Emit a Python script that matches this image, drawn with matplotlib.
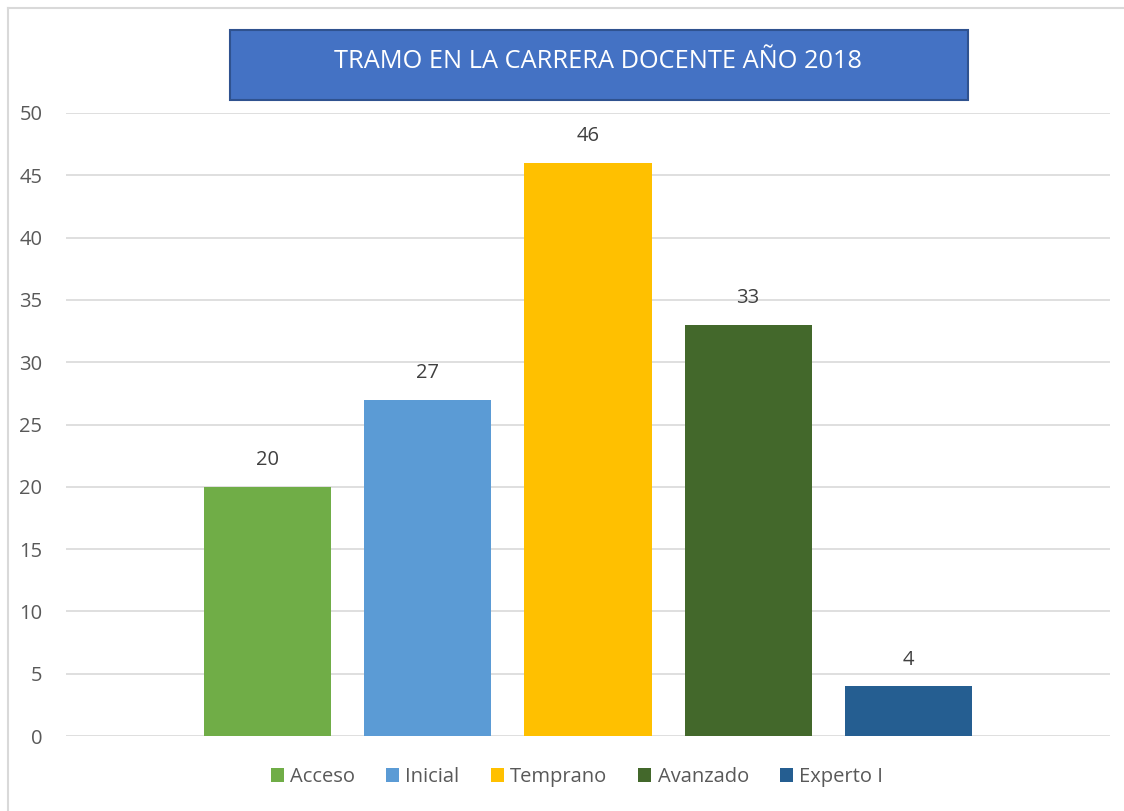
import matplotlib.pyplot as plt
from matplotlib.patches import Rectangle, Patch
from matplotlib.lines import Line2D

categories = ['Acceso', 'Inicial', 'Temprano', 'Avanzado', 'Experto I']
values = [20, 27, 46, 33, 4]
colors = ['#70AD47', '#5B9BD5', '#FFC000', '#43682B', '#255E91']
title = 'TRAMO EN LA CARRERA DOCENTE AÑO 2018'
yticks = [0, 5, 10, 15, 20, 25, 30, 35, 40, 45, 50]

plt.rcParams['font.family'] = ['Open Sans', 'DejaVu Sans']

W, H = 1124, 811
fig = plt.figure(figsize=(W / 100, H / 100), dpi=100)

# chart frame (only top and left edges visible)
fig.add_artist(Line2D([8 / W, 1], [1 - 8 / H, 1 - 8 / H], color='#D9D9D9', lw=1.5))
fig.add_artist(Line2D([8 / W, 8 / W], [0, 1 - 8 / H], color='#D9D9D9', lw=1.5))

ax = fig.add_axes([66 / W, (H - 736) / H, (1110 - 66) / W, (736 - 113) / H])
x = list(range(len(categories)))
bars = ax.bar(x, values, width=0.794, color=colors, zorder=3)
for xi, v in zip(x, values):
    ax.annotate(str(v), (xi, v), xytext=(0, 19), textcoords='offset points',
                ha='center', va='center', fontsize=14.5, color='#404040')

ax.set_xlim(-1.26, len(categories) - 1 + 1.26)
ax.set_ylim(0, 50)
ax.set_yticks(yticks)
ax.set_xticks([])
ax.grid(axis='y', color='#D9D9D9', lw=1.2, zorder=0)
ax.tick_params(axis='y', length=0, pad=17, labelsize=14.5, labelcolor='#595959')
for s in ax.spines.values():
    s.set_visible(False)

# title box
fig.add_artist(Rectangle((230 / W, 1 - 100 / H), (968 - 230) / W, 70 / H,
                         facecolor='#4472C4', edgecolor='#2F528F', lw=1.5,
                         transform=fig.transFigure))
fig.text(598 / W, 1 - 62 / H, title, ha='center', va='center', color='white',
         fontsize=18.3)

handles = [Patch(facecolor=c, label=l) for c, l in zip(colors, categories)]
fig.legend(handles=handles, loc='center', bbox_to_anchor=(577 / W, 1 - 777 / H),
           ncol=5, frameon=False, fontsize=14.5, labelcolor='#595959',
           handlelength=0.65, handleheight=0.65, handletextpad=0.3, columnspacing=1.55)

fig.savefig('out.png', dpi=100)
